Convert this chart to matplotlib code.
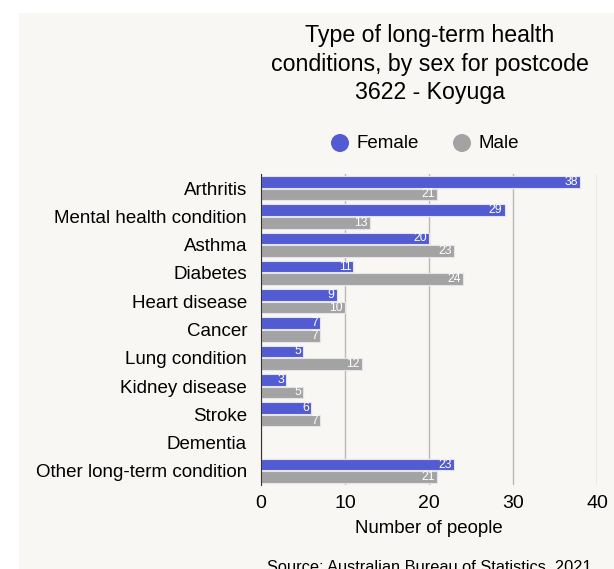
import matplotlib.pyplot as plt
import matplotlib.patches as mpatches

plt.rcParams['font.family'] = ['Liberation Sans', 'DejaVu Sans']

# Zustaende und Werte
conditions = ['Arthritis', 'Mental health condition', 'Asthma', 'Diabetes',
              'Heart disease', 'Cancer', 'Lung condition', 'Kidney disease',
              'Stroke', 'Dementia', 'Other long-term condition']
female = [38, 29, 20, 11, 9, 7, 5, 3, 6, 0, 23]
male = [21, 13, 23, 24, 10, 7, 12, 5, 7, 0, 21]

c_female = '#525bd1'
c_male = '#a3a3a3'
bg = '#f9f7f3'

W, H = 614, 569
fig = plt.figure(figsize=(W / 100, H / 100), dpi=100)
fig.patch.set_facecolor('white')
# Hintergrundflaeche
fig.patches.append(mpatches.Rectangle((19 / W, 0), 1, 1 - 13 / H,
                                      transform=fig.transFigure,
                                      facecolor=bg, edgecolor='none', zorder=-5))

ax = fig.add_axes([261 / W, 1 - 485 / H, 336 / W, 311 / H])
ax.set_facecolor(bg)

n = len(conditions)
ys = list(range(n))
h = 0.41
d = h / 2 + 0.018
for i in ys:
    for val, off, col in ((female[i], -d, c_female), (male[i], d, c_male)):
        if val == 0:
            continue
        ax.barh(i + off, val, height=h, color=col, edgecolor='#e4e4ec', linewidth=0.8, zorder=3)
        ax.text(val - 0.25, i + off, str(val), ha='right', va='center',
                color='white', fontsize=8.8, zorder=4)

ax.set_ylim(n - 0.5, -0.5)
ax.set_xlim(0, 40)
ax.set_xticks([0, 10, 20, 30, 40])
ax.set_yticks(ys)
ax.set_yticklabels(conditions, fontsize=13.5)
ax.tick_params(axis='x', labelsize=14, length=0, pad=7)
ax.tick_params(axis='y', length=0, pad=10)
ax.grid(axis='x', color='#bdb8b3', linewidth=1, zorder=0)
for s in ('top', 'right', 'bottom'):
    ax.spines[s].set_visible(False)
ax.spines['left'].set_color('#333333')
ax.spines['left'].set_zorder(5)
ax.set_xlabel('Number of people', fontsize=13.4, labelpad=6)

fig.text(430 / W, 1 - 64 / H,
         'Type of long-term health\nconditions, by sex for postcode\n3622 - Koyuga',
         ha='center', va='center', fontsize=16.7, linespacing=1.33)

# Legende
for cx, tx, col, lab in ((340, 357, c_female, 'Female'), (462, 479, c_male, 'Male')):
    fig.patches.append(mpatches.Ellipse((cx / W, 1 - 143 / H), 18 / W, 18 / H,
                                        transform=fig.transFigure, facecolor=col,
                                        edgecolor='none'))
    fig.text(tx / W, 1 - 143 / H, lab, ha='left', va='center', fontsize=13.5)

fig.text(429 / W, 1 - 568 / H, 'Source: Australian Bureau of Statistics, 2021',
         ha='center', va='center', fontsize=11.8)

fig.savefig('out.png', dpi=100, facecolor=fig.get_facecolor())
